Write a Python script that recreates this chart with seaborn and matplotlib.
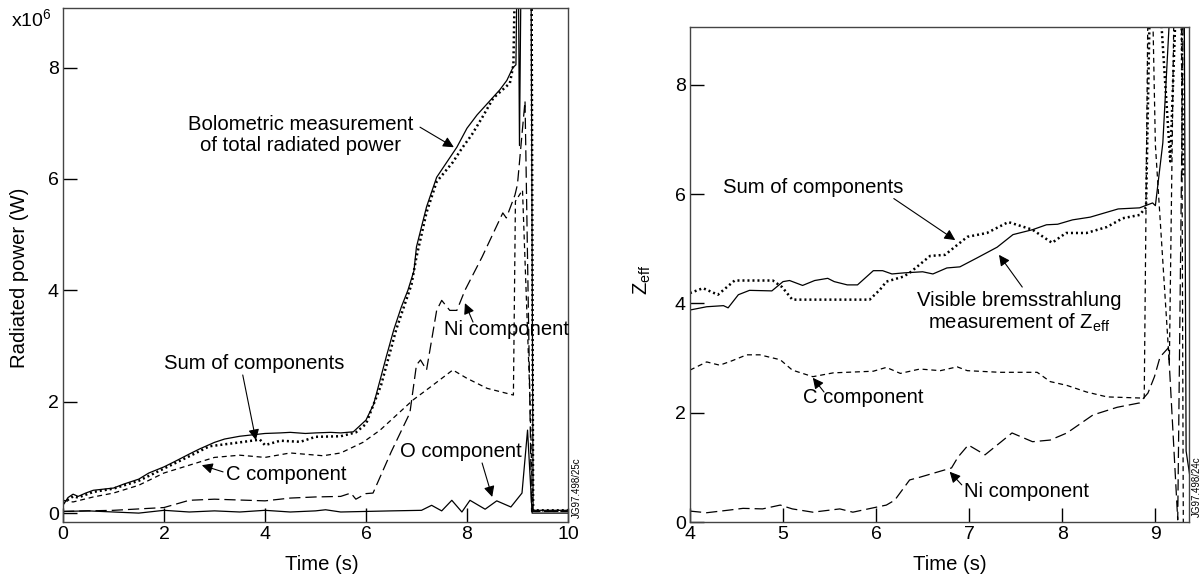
import numpy as np
import pandas as pd
import matplotlib
matplotlib.use("Agg")
import matplotlib.pyplot as plt
import seaborn as sns

# ---------------- data ----------------
# Left panel: radiated power (x1e6 W) vs time (s)
t_bolo = [0.0, 0.1, 0.2, 0.3, 0.45, 0.6, 0.8, 1.0, 1.2, 1.5, 1.7, 2.0, 2.2, 2.5, 2.7, 3.0, 3.2,
          3.5, 3.8, 4.0, 4.3, 4.5, 4.8, 5.0, 5.3, 5.5, 5.75, 6.0, 6.15, 6.28, 6.4, 6.55, 6.7, 6.83,
          6.95, 7.0, 7.2, 7.4, 7.6, 7.8, 8.0, 8.2, 8.35, 8.52, 8.65, 8.79, 8.91, 8.97, 8.99, 9.02,
          9.04, 9.07, 9.27, 9.31, 10.0]
v_bolo = [0.14, 0.28, 0.34, 0.30, 0.36, 0.41, 0.43, 0.45, 0.52, 0.61, 0.72, 0.83, 0.92, 1.06, 1.15,
          1.27, 1.33, 1.38, 1.41, 1.43, 1.44, 1.45, 1.43, 1.44, 1.45, 1.44, 1.46, 1.67, 1.95, 2.39,
          2.8, 3.29, 3.7, 4.0, 4.35, 4.78, 5.5, 6.03, 6.3, 6.57, 6.91, 7.15, 7.3, 7.47, 7.6, 7.77,
          8.0, 8.05, 9.6, 9.6, 6.6, 9.6, 9.6, 0.05, 0.05]

t_sum = [0.0, 0.2, 0.3, 0.6, 1.0, 1.5, 2.0, 2.5, 2.9, 3.5, 3.9, 4.0, 4.3, 4.7, 5.0, 5.5, 5.8,
         6.0, 6.3, 6.6, 6.9, 7.0, 7.2, 7.4, 7.72, 7.9, 8.1, 8.3, 8.52, 8.85, 8.92, 8.95, 9.28,
         9.31, 10.0]
v_sum = [0.18, 0.30, 0.28, 0.38, 0.44, 0.58, 0.80, 1.02, 1.20, 1.27, 1.32, 1.22, 1.30, 1.28, 1.37,
         1.38, 1.45, 1.60, 2.30, 3.30, 4.10, 4.60, 5.40, 5.95, 6.30, 6.55, 6.80, 7.10, 7.45, 7.72,
         8.05, 9.6, 9.6, 0.05, 0.05]

t_c = [0.0, 0.2, 0.6, 1.0, 1.5, 2.0, 2.5, 3.0, 3.5, 4.0, 4.5, 5.15, 5.5, 5.94, 6.28, 6.93, 7.27,
       7.72, 8.0, 8.4, 8.92, 8.96, 9.1, 9.25, 9.3, 10.0]
v_c = [0.23, 0.20, 0.29, 0.36, 0.50, 0.72, 0.86, 1.00, 1.04, 1.00, 1.08, 1.03, 1.08, 1.27, 1.49,
       2.03, 2.26, 2.57, 2.42, 2.24, 2.12, 5.6, 5.8, 2.0, 0.03, 0.03]

t_ni = [0.0, 1.0, 2.0, 2.5, 3.0, 4.0, 4.5, 5.0, 5.5, 5.7, 5.8, 6.0, 6.14, 6.5, 6.87, 7.0, 7.08,
        7.2, 7.4, 7.5, 7.66, 7.8, 7.96, 8.3, 8.71, 8.78, 8.95, 9.0, 9.15, 9.28, 10.0]
v_ni = [0.03, 0.05, 0.10, 0.23, 0.25, 0.22, 0.27, 0.29, 0.30, 0.36, 0.25, 0.35, 0.36, 1.10, 1.80,
        2.66, 2.75, 2.57, 3.64, 3.82, 3.64, 3.64, 4.00, 4.60, 5.39, 5.30, 5.71, 5.90, 7.40, 0.03,
        0.03]

t_o = [0.0, 0.5, 1.0, 1.5, 2.0, 2.5, 3.0, 3.5, 4.0, 4.5, 5.0, 5.2, 5.5, 6.0, 6.5, 7.1, 7.3, 7.5,
       7.7, 7.9, 8.06, 8.36, 8.59, 8.87, 9.09, 9.2, 9.29, 10.0]
v_o = [0.03, 0.04, 0.02, 0.00, 0.05, 0.02, 0.04, 0.02, 0.05, 0.02, 0.04, 0.06, 0.02, 0.03, 0.04,
       0.05, 0.14, 0.04, 0.23, 0.02, 0.23, 0.07, 0.22, 0.11, 0.36, 1.49, 0.00, 0.00]

# Right panel: Z_eff vs time (s)
t_brem = [4.0, 4.18, 4.36, 4.41, 4.52, 4.64, 4.88, 5.0, 5.07, 5.21, 5.34, 5.48, 5.55, 5.69, 5.8,
          5.97, 6.07, 6.17, 6.3, 6.5, 6.61, 6.76, 6.9, 7.08, 7.3, 7.47, 7.68, 7.83, 7.95, 8.11,
          8.3, 8.48, 8.6, 8.83, 8.97, 9.0, 9.08, 9.16, 9.31, 9.33, 9.4]
v_brem = [3.88, 3.94, 3.96, 3.92, 4.16, 4.24, 4.23, 4.40, 4.42, 4.33, 4.42, 4.46, 4.40, 4.34, 4.34,
          4.60, 4.60, 4.54, 4.56, 4.58, 4.54, 4.65, 4.67, 4.83, 5.03, 5.26, 5.35, 5.44, 5.45, 5.53,
          5.58, 5.67, 5.73, 5.75, 5.84, 5.79, 6.94, 9.5, 9.5, 1.3, 0.5]

t_zsum = [4.0, 4.14, 4.3, 4.48, 4.89, 4.99, 5.1, 5.93, 6.04, 6.11, 6.29, 6.36, 6.58, 6.74, 6.98,
          7.19, 7.42, 7.68, 7.89, 8.04, 8.26, 8.48, 8.65, 8.83, 8.9, 8.94, 9.05, 9.16, 9.22, 9.28,
          9.3]
v_zsum = [4.19, 4.28, 4.16, 4.42, 4.42, 4.30, 4.07, 4.07, 4.25, 4.40, 4.49, 4.56, 4.87, 4.89, 5.22,
          5.29, 5.49, 5.35, 5.11, 5.29, 5.29, 5.40, 5.56, 5.62, 5.76, 9.5, 9.5, 6.6, 9.5, 9.5, 6.3]

t_zc = [4.0, 4.18, 4.32, 4.45, 4.61, 4.75, 4.97, 5.1, 5.32, 5.54, 5.97, 6.11, 6.26, 6.47, 6.69,
        6.87, 6.98, 7.33, 7.73, 7.87, 8.05, 8.26, 8.48, 8.83, 8.88, 8.92, 8.97, 9.0, 9.15, 9.2,
        9.28, 9.3]
v_zc = [2.78, 2.93, 2.87, 2.95, 3.06, 3.06, 2.97, 2.78, 2.66, 2.73, 2.76, 2.83, 2.72, 2.80, 2.77,
        2.84, 2.77, 2.74, 2.74, 2.57, 2.50, 2.38, 2.29, 2.27, 2.27, 9.5, 9.5, 6.9, 2.9, 9.5, 9.5,
        0.0]

t_zni = [4.0, 4.18, 4.43, 4.57, 4.78, 4.97, 5.1, 5.32, 5.61, 5.75, 5.97, 6.11, 6.2, 6.36, 6.47,
         6.81, 6.88, 6.99, 7.17, 7.33, 7.46, 7.68, 7.87, 8.05, 8.33, 8.59, 8.83, 8.92, 8.99, 9.05,
         9.14, 9.24, 9.3, 9.34]
v_zni = [0.20, 0.17, 0.22, 0.25, 0.24, 0.31, 0.24, 0.18, 0.24, 0.18, 0.26, 0.31, 0.40, 0.77, 0.82,
         0.99, 1.19, 1.41, 1.23, 1.45, 1.63, 1.47, 1.50, 1.63, 1.96, 2.10, 2.18, 2.36, 2.66, 3.02,
         3.19, 0.04, 9.5, 9.5]

left_xticks = [0, 2, 4, 6, 8, 10]
right_xticks = [4, 5, 6, 7, 8, 9]
yticks = [0, 2, 4, 6, 8]

# ---------------- style ----------------
sns.set_theme(style="white")
plt.rcParams.update({
    "font.family": ["Liberation Sans", "DejaVu Sans"],
    "mathtext.fontset": "custom",
    "mathtext.rm": "Liberation Sans",
    "mathtext.it": "Liberation Sans:italic",
    "mathtext.bf": "Liberation Sans:bold",
    "text.color": "black",
    "axes.labelcolor": "black",
    "xtick.bottom": True,
    "ytick.left": True,
    "xtick.direction": "in",
    "ytick.direction": "in",
})

FS_TICK = 14
FS_NOTE = 14.6
FS_LABEL = 14.6
SPINE = "#444444"
solid = dict(color="black", linewidth=0.9, linestyle="-")
dotted = dict(color="black", linewidth=1.8, linestyle=(0, (0.8, 1.2)))
shortdash = dict(color="black", linewidth=0.9, linestyle=(0, (4, 3)))
longdash = dict(color="black", linewidth=0.9, linestyle=(0, (9, 4)))

fig = plt.figure(figsize=(12.02, 5.83), dpi=100)
ax1 = fig.add_axes([0.0524, 0.1046, 0.4201, 0.8817])
ax2 = fig.add_axes([0.574, 0.1046, 0.4151, 0.8491])


def draw(ax, t, v, kw):
    sns.lineplot(x=t, y=v, ax=ax, estimator=None, sort=False, legend=False, **kw)


draw(ax1, t_o, v_o, solid)
draw(ax1, t_ni, v_ni, longdash)
draw(ax1, t_c, v_c, shortdash)
draw(ax1, t_sum, v_sum, dotted)
draw(ax1, t_bolo, v_bolo, solid)

draw(ax2, t_zni, v_zni, longdash)
draw(ax2, t_zc, v_zc, shortdash)
draw(ax2, t_zsum, v_zsum, dotted)
draw(ax2, t_brem, v_brem, solid)

ax1.set_xlim(0, 10)
ax1.set_ylim(-0.16, 9.07)
ax2.set_xlim(4, 9.36)
ax2.set_ylim(0, 9.06)

for ax, xt in ((ax1, left_xticks), (ax2, right_xticks)):
    ax.set_xticks(xt)
    ax.set_yticks(yticks)
    ax.set_xticklabels([str(x) for x in xt])
    ax.set_yticklabels([str(y) for y in yticks])
    ax.set_xlabel("")
    ax.set_ylabel("")
    for s in ax.spines.values():
        s.set_color(SPINE)
        s.set_linewidth(1.0)
    ax.grid(False)
    ax.tick_params(direction="in", length=10, width=1.0, color="black",
                   labelsize=FS_TICK, pad=3, labelcolor="black",
                   bottom=True, left=True, top=False, right=False)

# axis labels
fig.text(20 / 1202, 1 - 278 / 583, "Radiated power (W)", rotation=90,
         ha="center", va="center", fontsize=FS_LABEL)
fig.text(322 / 1202, 1 - 565 / 583, "Time (s)", ha="center", va="center", fontsize=FS_LABEL)
fig.text(642 / 1202, 1 - 280 / 583, r"Z$_{\mathrm{eff}}$", rotation=90,
         ha="center", va="center", fontsize=FS_LABEL)
fig.text(950 / 1202, 1 - 565 / 583, "Time (s)", ha="center", va="center", fontsize=FS_LABEL)
fig.text(11 / 1202, 1 - 19 / 583, r"x10$^{6}$", ha="left", va="center", fontsize=FS_TICK)

fig.text(577 / 1202, 1 - 488 / 583, "JG97.498/25c", rotation=90,
         ha="center", va="center", fontsize=7)
fig.text(1197 / 1202, 1 - 487 / 583, "JG97.498/24c", rotation=90,
         ha="center", va="center", fontsize=7)

arrow = dict(arrowstyle="-|>", color="black", lw=0.8, mutation_scale=16,
             shrinkA=0, shrinkB=0)


def note(ax, text, txy, tail, head):
    ax.text(txy[0], txy[1], text, ha="center", va="center", fontsize=FS_NOTE,
            linespacing=1.1, color="black")
    ax.annotate("", xy=head, xytext=tail, arrowprops=arrow)


note(ax1, "Bolometric measurement\nof total radiated power", (4.71, 6.79),
     (7.07, 6.93), (7.74, 6.57))
note(ax1, "Sum of components", (3.78, 2.69), (3.56, 2.48), (3.82, 1.31))
note(ax1, "C component", (4.42, 0.70), (3.17, 0.74), (2.75, 0.86))
note(ax1, "Ni component", (8.79, 3.29), (8.12, 3.43), (7.96, 3.77))
note(ax1, "O component", (7.87, 1.11), (8.30, 0.90), (8.50, 0.29))

note(ax2, "Sum of components", (5.32, 6.12), (6.19, 5.92), (6.85, 5.16))
note(ax2, "Visible bremsstrahlung\nmeasurement of Z$_{\\mathrm{eff}}$", (7.54, 3.83),
     (7.57, 4.30), (7.32, 4.89))
note(ax2, "C component", (5.86, 2.27), (5.44, 2.38), (5.32, 2.64))
note(ax2, "Ni component", (7.62, 0.55), (6.92, 0.68), (6.79, 0.92))

fig.savefig("out.png", dpi=100, facecolor="white")
